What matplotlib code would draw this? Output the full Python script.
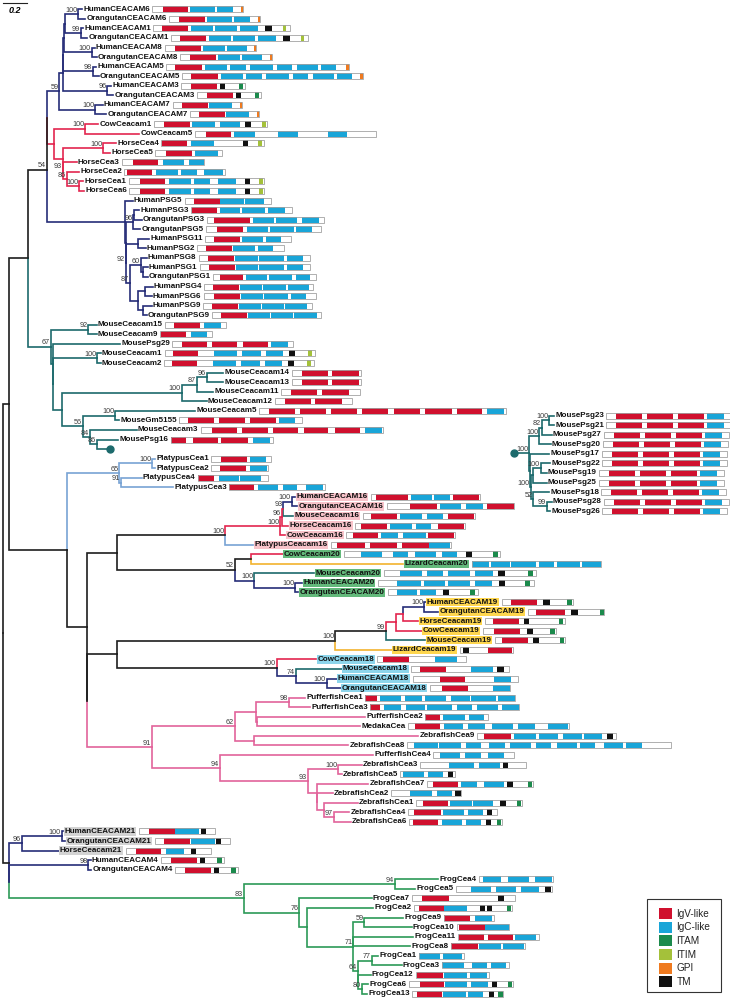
import matplotlib
matplotlib.use('Agg')
import matplotlib.pyplot as plt
from matplotlib.patches import Rectangle

plt.rcParams['font.family'] = ['Liberation Sans', 'DejaVu Sans']

# ---- tree: internal node = [depth, support, colour, *children], leaf = (name, tip depth[, colour])
# depths are in scale-bar units where 0.2 substitutions = 24
TREE = [2.7, None, 'k',
  [9.0, None, 'k',
    [28.3, None, 'k',
      [46.7, 54, 'k',
        [46.7, None, 'k',
          [59.3, 59, 'n',
            [63.3, None, 'n',
              [63.3, None, 'n',
                [64.3, None, 'n',
                  [65.3, None, 'n',
                    [78.3, 100, 'n', ('HumanCEACAM6', 82.0), ('OrangutanCEACAM6', 85.3)],
                    [80.7, 99, 'n', ('HumanCEACAM1', 83.3), ('OrangutanCEACAM1', 87.3)]],
                  [91.7, 100, 'n', ('HumanCEACAM8', 94.7), ('OrangutanCEACAM8', 96.7)]],
                [92.7, 98, 'n', ('HumanCEACAM5', 96.0), ('OrangutanCEACAM5', 98.7)]],
              [107.3, 96, 'n', ('HumanCEACAM3', 111.3), ('OrangutanCEACAM3', 113.3)]],
            [95.0, 100, 'n', ('HumanCEACAM7', 102.7), ('OrangutanCEACAM7', 106.0)]],
          [54.0, None, 'r',
            [85.0, 100, 'r', ('CowCeacam1', 98.0), ('CowCeacam5', 139.0)],
            [63.0, None, 'r',
              [103.0, 100, 'r', ('HorseCea4', 116.0), ('HorseCea5', 110.0)],
              [63.0, 93, 'r', ('HorseCea3', 76.7),
                [67.0, 86, 'r', ('HorseCea2', 79.0),
                  [79.0, 100, 'r', ('HorseCea1', 83.3), ('HorseCea6', 84.0)]]]]]],
        [125.0, None, 'n',
          ('HumanPSG5', 132.7),
          [126.0, None, 'n',
            [133.3, 96, 'n',
              [133.5, None, 'n', ('HumanPSG3', 139.3), ('OrangutanPSG3', 141.7)],
              ('OrangutanPSG5', 140.0)],
            [126.0, 92, 'n',
              [138.3, None, 'n', ('HumanPSG11', 149.0), ('HumanPSG2', 145.7)],
              [130.0, 87, 'n',
                [141.0, 60, 'n', ('HumanPSG8', 146.7),
                  [143.0, None, 'n', ('HumanPSG1', 147.7), ('OrangutanPSG1', 147.7)]],
                [138.3, None, 'n',
                  [145.0, None, 'n', ('HumanPSG4', 152.7), ('HumanPSG6', 151.7)],
                  [143.0, None, 'n', ('HumanPSG9', 151.7), ('OrangutanPSG9', 146.7)]]]]]]],
      [50.7, 67, 't',
        [88.3, 92, 't', ('MouseCeacam15', 96.7), ('MouseCeacam9', 96.7)],
        [53.3, None, 't',
          ('MousePsg29', 120.0),
          [53.3, None, 't',
            [97.0, 100, 't', ('MouseCeacam1', 100.7), ('MouseCeacam2', 100.7)],
            [62.0, None, 't',
              [181.7, 100, 't',
                [196.7, 87, 't',
                  [206.7, 96, 't', ('MouseCeacam14', 223.3), ('MouseCeacam13', 223.3)],
                  ('MouseCeacam11', 213.3)],
                ('MouseCeacam12', 206.7)],
              [82.7, 56, 't',
                [115.0, 100, 't', ('MouseCeacam5', 195.0), ('MouseGm5155', 119.0)],
                [90.0, 84, 't', ('MouseCeacam3', 136.7),
                  [97.0, 86, 't', ('MousePsg16', 118.3), ('*', 110.0)]]]]]]]],
    [67.0, None, 'k',
      [119.3, 65, 'b',
        [152.0, 100, 'b', ('PlatypusCea1', 155.0), ('PlatypusCea2', 155.0)],
        [120.7, 91, 'b', ('PlatypusCea4', 141.7), ('PlatypusCea3', 173.3)]],
      [87.0, None, 'k',
        [117.3, None, 'k',
          [225.0, 100, 'k',
            [280.0, 100, 'r',
              [281.7, 96, 'r',
                [283.3, 93, 'r',
                  [291.7, 100, 'n', ('HumanCEACAM16', 295.0), ('OrangutanCEACAM16', 297.3)],
                  ('MouseCeacam16', 293.3, 't')],
                ('HorseCeacam16', 288.3)],
              ('CowCeacam16', 285.0)],
            ('PlatypusCeacam16', 253.3, 'b')],
          [235.0, 52, 'k',
            [251.0, None, 'k', ('CowCeacam20', 282.7, 'r'), ('LizardCeacam20', 403.3, 'o')],
            [254.0, 100, 'n', ('MouseCeacam20', 314.0, 't'),
              [295.0, 100, 'n', ('HumanCEACAM20', 302.0), ('OrangutanCEACAM20', 298.0)]]]],
        [87.0, None, 'k',
          [117.3, None, 'k',
            [335.0, 100, 'k',
              [386.0, 99, 'k',
                [396.0, None, 'r',
                  [402.7, None, 'r',
                    [424.3, 100, 'n', ('HumanCEACAM19', 425.7), ('OrangutanCEACAM19', 438.3)],
                    ('HorseCeacam19', 418.3)],
                  ('CowCeacam19', 421.7)],
                ('MouseCeacam19', 425.0, 't')],
              ('LizardCeacam19', 391.7, 'o')],
            [276.7, 100, 'k',
              ('CowCeacam18', 316.0, 'r'),
              [296.0, 74, 'n', ('MouseCeacam18', 341.7, 't'),
                [326.7, 100, 'n', ('HumanCEACAM18', 336.7), ('OrangutanCEACAM18', 340.7)]]]],
          [151.7, 91, 'p',
            [235.0, 62, 'p',
              [256.0, None, 'p',
                [289.0, 98, 'p', ('PufferfishCea1', 305.0), ('PufferfishCea3', 310.0)],
                [257.3, None, 'p', ('PufferfishCea2', 365.0), ('MedakaCea', 360.0)]],
              [254.0, None, 'p', ('ZebrafishCea9', 418.3), ('ZebrafishCea8', 348.3)]],
            [220.0, 94, 'p',
              ('PufferfishCea4', 373.3),
              [308.0, 93, 'p',
                [338.3, 100, 'p', ('ZebrafishCea3', 361.7), ('ZebrafishCea5', 341.7)],
                [317.3, None, 'p', ('ZebrafishCea7', 368.3),
                  [317.3, None, 'p', ('ZebrafishCea2', 332.7),
                    [324.0, None, 'p', ('ZebrafishCea1', 357.7),
                      [334.0, 97, 'p', ('ZebrafishCea4', 349.3), ('ZebrafishCea6', 350.7)]]]]]]]]]]],
  [9.0, None, 'k',
    [22.0, 96, 'n',
      [61.7, 100, 'n', ('HumanCEACAM21', 63.3), ('OrangutanCEACAM21', 65.3)],
      ('HorseCeacam21', 58.7)],
    [9.0, None, 'n',
      [88.3, 98, 'n', ('HumanCEACAM4', 90.7), ('OrangutanCEACAM4', 91.3)],
      [244.0, 83, 'g',
        [395.0, 94, 'g', ('FrogCea4', 438.3), ('FrogCea5', 415.0)],
        [299.3, 76, 'g', ('FrogCea7', 371.7),
          [307.3, None, 'g', ('FrogCea2', 373.3),
            [353.3, 71, 'g',
              [364.3, 59, 'g', ('FrogCea9', 403.3), ('FrogCea10', 411.7)],
              ('FrogCea11', 413.3), ('FrogCea8', 410.0),
              [357.7, 64, 'g',
                [371.7, 77, 'g', ('FrogCea1', 378.3), ('FrogCea3', 401.7)],
                [357.7, None, 'g', ('FrogCea12', 370.7),
                  [361.7, 80, 'g', ('FrogCea6', 368.3), ('FrogCea13', 367.3)]]]]]]]]]]

# collapsed mouse PSG clade, drawn to the right
PSG_TREE = [514.3, None, 't',
  [529.3, 100, 't',
    [539.3, 100, 't',
      [541.7, 82, 't',
        [549.0, 100, 't', ('MousePsg23', 554.0), ('MousePsg21', 554.0)],
        ('MousePsg27', 551.7)],
      ('MousePsg20', 550.7)],
    [530.0, None, 't', ('MousePsg17', 549.3),
      [530.5, 100, 't',
        [532.7, None, 't',
          [540.7, 100, 't', ('MousePsg22', 550.0), ('MousePsg19', 546.7)],
          ('MousePsg25', 546.7)],
        [533.3, 52, 't', ('MousePsg18', 549.0),
          [546.5, 99, 't', ('MousePsg28', 551.7), ('MousePsg26', 550.0)]]]]]]

# ---- domain architecture: w = no domain, V = IgV-like, C = IgC-like, A = ITAM, I = ITIM, G = GPI, T = TM
psg_mouse = 'w10 V26 w5 V26 w5 V26 w3 C17 w7'
DOMAINS = {
    'HumanCEACAM6': 'w11 V25 w2 C25 w2 C16 w8 G2',
    'OrangutanCEACAM6': 'w10 V26 w2 C25 w2 C16 w8 G2',
    'HumanCEACAM1': 'w9 V26 w3 C22 w2 C22 w3 C18 w7 T7 w11 I3 w4',
    'OrangutanCEACAM1': 'w9 V26 w3 C22 w2 C22 w3 C18 w7 T7 w11 I3 w4',
    'HumanCEACAM8': 'w10 V26 w2 C22 w2 C20 w7 G2',
    'OrangutanCEACAM8': 'w10 V26 w2 C22 w2 C20 w8 G2',
    'HumanCEACAM5': 'w9 V27 w3 C22 w3 C16 w4 C23 w4 C15 w5 C21 w3 C15 w10 G3',
    'OrangutanCEACAM5': 'w9 V27 w3 C22 w3 C16 w4 C23 w4 C15 w5 C21 w3 C15 w8 G3',
    'HumanCEACAM3': 'w10 V26 w3 T5 w14 A4 w2',
    'OrangutanCEACAM3': 'w10 V26 w3 T5 w14 A4 w2',
    'HumanCEACAM7': 'w9 V26 w1 C23 w8 G2',
    'OrangutanCEACAM7': 'w9 V26 w1 C23 w8 G2',
    'CowCeacam1': 'w10 V26 w2 C23 w5 C20 w5 T6 w11 I4 w1',
    'CowCeacam5': 'w11 V25 w3 C21 w23 C20 w30 C19 w29',
    'HorseCea4': 'w1 V25 w4 C23 w29 T5 w10 I4 w2',
    'HorseCea5': 'w11 V26 w3 C23 w4',
    'HorseCea3': 'w11 V25 w5 C21 w5 C15',
    'HorseCea2': 'w3 V25 w4 C22 w3 C16 w7 C19 w2',
    'HorseCea1': 'w11 V25 w4 C22 w3 C16 w8 C18 w9 T5 w9 I4 w1',
    'HorseCea6': 'w11 V25 w4 C22 w3 C16 w8 C18 w9 T5 w9 I4 w1',
    'HumanPSG5': 'w9 V26 C24 w1 C19 w7',
    'HumanPSG3': 'w1 V25 w3 C20 w2 C23 w3 C17 w7',
    'OrangutanPSG3': 'w7 V36 w3 C21 w2 C21 w5 C17 w5',
    'OrangutanPSG5': 'w11 V26 w4 C21 w2 C24 w2 C16 w9',
    'HumanPSG11': 'w9 V26 w2 C21 w3 C15 w10',
    'HumanPSG2': 'w9 V26 w1 C22 w3 C15 w11',
    'HumanPSG8': 'w9 V26 w1 C23 w1 C25 w3 C16 w7',
    'HumanPSG1': 'w9 V26 w1 C22 w1 C25 w3 C16 w7',
    'OrangutanPSG1': 'w7 V23 w3 C21 w2 C23 w4 C14 w6',
    'HumanPSG4': 'w9 V26 w1 C22 w1 C23 w2 C21 w4',
    'HumanPSG6': 'w10 V26 w1 C22 w1 C24 w3 C15 w10',
    'HumanPSG9': 'w9 V26 w1 C22 w1 C22 w1 C22 w5',
    'OrangutanPSG9': 'w9 V26 w1 C22 w1 C22 w1 C23 w4',
    'MouseCeacam15': 'w9 V26 w4 C17 w5',
    'MouseCeacam9': 'w1 V25 w5 C16 w5',
    'MousePsg29': 'w10 V25 w5 V25 w6 V25 w3 C17 w5',
    'MouseCeacam1': 'w8 V25 w16 C23 w5 C19 w5 C17 w6 T6 w13 I4 w3',
    'MouseCeacam2': 'w8 V25 w16 C23 w5 C19 w5 C17 w6 T6 w13 I4 w3',
    'MouseCeacam14': 'w10 V26 w4 V27 w2',
    'MouseCeacam13': 'w10 V26 w4 V27 w2',
    'MouseCeacam11': 'w10 V26 w5 V27 w11',
    'MouseCeacam12': 'w10 V26 w4 V27 w10',
    'MouseCeacam5': 'w10 V26 w5 V26 w5 V26 w5 V26 w6 V26 w5 V27 w5 V25 w5 C17 w2',
    'MouseGm5155': 'w9 V26 w5 V26 w5 V26 w3 C16 w7',
    'MouseCeacam3': 'w11 V25 w5 V26 w5 V25 w6 V24 w7 V25 w5 C17 w1',
    'MousePsg16': 'V15 w7 V25 w3 V27 w5 C17 w3',
    'PlatypusCea1': 'w10 V26 w3 C16 w5',
    'PlatypusCea2': 'w9 V26 w4 C17 w1',
    'PlatypusCea4': 'V16 w5 C20 w1 C21 w7',
    'PlatypusCea3': 'V25 w4 C20 w5 C14 w9 C17 w2',
    'HumanCEACAM16': 'w5 V32 w3 C21 w2 C16 w3 V26 w1',
    'OrangutanCEACAM16': 'w23 V27 w3 C21 w5 C17 w4 V27',
    'MouseCeacam16': 'w8 V26 w3 C22 w5 C16 w5 V26 w1',
    'HorseCeacam16': 'w6 V26 w3 C22 w4 C15 w7 V26 w1',
    'CowCeacam16': 'w7 V25 w3 C17 w5 C23 w2 V26 w1',
    'PlatypusCeacam16': 'w6 V28 w5 V27 w5 V27 C21 w1',
    'CowCeacam20': 'w17 C21 w11 C15 w7 C21 w6 C15 w9 T6 w21 A5 w2',
    'LizardCeacam20': 'C17 w2 C19 w1 C25 w3 C15 w3 C23 w2 C19',
    'MouseCeacam20': 'w16 C22 w5 C16 w5 C22 w5 C18 w5 T7 w23 A5 w3',
    'HumanCEACAM20': 'w19 C24 w3 C21 w3 C22 w5 C17 w7 T6 w20 A5 w4',
    'OrangutanCEACAM20': 'w9 C20 w3 C16 w7 T6 w21 A5 w3',
    'HumanCEACAM19': 'w9 V26 w6 T7 w17 A5 w1',
    'OrangutanCEACAM19': 'w8 V29 w6 T7 w22 A4',
    'HorseCeacam19': 'w8 V26 w5 T5 w30 A4 w2',
    'CowCeacam19': 'w11 V26 w7 T6 w17 A5 w1',
    'MouseCeacam19': 'w7 V26 w5 T6 w21 A4 w1',
    'LizardCeacam19': 'w3 T6 w19 V24 w1',
    'CowCeacam18': 'w6 V26 w26 C22 w9',
    'MouseCeacam18': 'w9 V26 w25 C22 w4 T7 w5',
    'HumanCEACAM18': 'w27 V25 w29 C17 w7',
    'OrangutanCEACAM18': 'w12 V26 w25 C17',
    'PufferfishCea1': 'V12 w3 C21 w4 C17 w3 C21 w5 C19 w1 C25 w2 C17',
    'PufferfishCea3': 'V10 w4 C17 w5 C19 w2 C25 w5 C15 w5 C21 w4 C17',
    'PufferfishCea2': 'V15 w3 C22 w4 C15 w4',
    'MedakaCea': 'w7 V25 w4 C19 w5 C17 w7 C21 w5 C17 w13 C20 w1',
    'ZebrafishCea9': 'w7 V27 w3 C22 w3 C19 w5 C19 w2 C18 w5 T6 w3',
    'ZebrafishCea8': 'w7 C24 w1 C22 w5 C15 w8 C16 w5 C21 w5 C15 w6 C20 w3 C15 w9 C19 w3 C16 w29',
    'PufferfishCea4': 'w7 C20 w5 C16 w7 C16 w10',
    'ZebrafishCea3': 'w29 C25 w5 C21 w3 T5 w18',
    'ZebrafishCea5': 'w3 C21 w4 C15 w5 T5 w2',
    'ZebrafishCea7': 'w6 V25 w3 C16 w7 C20 w3 T6 w15 A4 w1',
    'ZebrafishCea2': 'w19 C22 w5 C15 w3 T6',
    'ZebrafishCea1': 'w7 V25 w2 C22 w1 C20 w7 T6 w11 A4 w1',
    'ZebrafishCea4': 'w6 V27 w2 C21 w4 C15 w4 T5 w5',
    'ZebrafishCea6': 'w4 V25 w4 C20 w4 C15 w5 T5 w6 A4 w1',
    'HumanCEACAM21': 'w10 V26 C24 w2 T5 w9',
    'OrangutanCEACAM21': 'w9 V26 w1 C24 w1 T5 w9',
    'HorseCeacam21': 'w10 V25 w5 C18 w7 T5 w15',
    'HumanCEACAM4': 'w10 V26 w3 T5 w12 A5 w2',
    'OrangutanCEACAM4': 'w10 V26 w3 T5 w12 A5 w2',
    'FrogCea4': 'w4 C18 w7 C21 w6 C17 w1',
    'FrogCea5': 'w15 C20 w5 C20 w5 C18 w6 T6 w1',
    'FrogCea7': 'w10 V27 w49 T6 w11',
    'FrogCea2': 'w5 V25 C23 w13 T5 w2 T5 w15 A4 w1',
    'FrogCea9': 'V26 w5 C17 w2',
    'FrogCea10': 'w2 V26 C24',
    'FrogCea11': 'w1 V25 w4 V25 w2 C21 w3',
    'FrogCea8': 'V27 w1 C22 w2 C21 w1',
    'FrogCea1': 'C21 w3 C19 w2',
    'FrogCea3': 'C22 w8 C15 w4 C15 w3',
    'FrogCea12': 'w1 V26 w1 C23 w3 C17 w2',
    'FrogCea6': 'w11 V24 w1 C22 w4 C17 w4 T5 w11 A4 w1',
    'FrogCea13': 'w5 V25 w1 C23 w2 C15 w6 T5 w4 A5',
}
for n in ['23', '21', '27', '20', '17', '22', '19', '25', '18', '28', '26']:
    DOMAINS['MousePsg' + n] = psg_mouse

HIGHLIGHT = {
    'pink': ['HumanCEACAM16', 'OrangutanCEACAM16', 'MouseCeacam16', 'HorseCeacam16',
             'CowCeacam16', 'PlatypusCeacam16'],
    'green': ['CowCeacam20', 'LizardCeacam20', 'MouseCeacam20', 'HumanCEACAM20',
              'OrangutanCEACAM20'],
    'yellow': ['HumanCEACAM19', 'OrangutanCEACAM19', 'HorseCeacam19', 'CowCeacam19',
               'MouseCeacam19', 'LizardCeacam19'],
    'cyan': ['CowCeacam18', 'MouseCeacam18', 'HumanCEACAM18', 'OrangutanCEACAM18'],
    'gray': ['HumanCEACAM21', 'OrangutanCEACAM21', 'HorseCeacam21'],
}
legend_keys = ['V', 'C', 'A', 'I', 'G', 'T']
legend_names = ['IgV-like', 'IgC-like', 'ITAM', 'ITIM', 'GPI', 'TM']

# ---- styles
branch_col = {'k': '#1e1e1e', 'n': '#262d78', 'r': '#e3264f', 't': '#1c6a6c',
              'b': '#78a3d4', 'p': '#e2649b', 'g': '#2c9a58', 'o': '#f2b32e'}
dom_col = {'V': '#d0102e', 'C': '#19a5d8', 'A': '#1b8a4c', 'I': '#a4c13a',
           'G': '#ef7a1f', 'T': '#111111'}
hl_col = {'pink': '#f8c3ca', 'green': '#63b97b', 'yellow': '#fed64e',
          'cyan': '#8dd5eb', 'gray': '#d3d3d3'}
hl_of = {name: g for g, names in HIGHLIGHT.items() for name in names}

Y0, DY = 9.3, 9.56   # first row and row spacing (pixels)

edges, leaves, supports = [], [], []


def place(node, inherited, state):
    if isinstance(node, tuple):
        col = node[2] if len(node) > 2 else inherited
        y = Y0 + state['row'] * DY
        state['row'] += 1
        leaves.append((node[0], node[1], y, col))
        return node[1], y, col
    x, sup, col = node[0], node[1], node[2] or inherited
    kids = [place(ch, col, state) for ch in node[3:]]
    y = (kids[0][1] + kids[-1][1]) / 2
    for kx, ky, kc in kids:
        edges.append(([x, x, kx], [y, ky, ky], kc))
    if sup is not None:
        supports.append((x, y, sup))
    return x, y, col


place(TREE, 'k', {'row': 0})
rx, ry, _ = place(PSG_TREE, 't', {'row': 42.5})

fig = plt.figure(figsize=(7.3, 10), dpi=100)
ax = fig.add_axes([0, 0, 1, 1])
ax.set_xlim(0, 730)
ax.set_ylim(1000, 0)
ax.axis('off')

for xs, ys, c in edges:
    ax.plot(xs, ys, color=branch_col[c], lw=1.2, solid_joinstyle='miter',
            solid_capstyle='projecting', zorder=2)

for x, y, s in supports:
    ax.text(x - 0.8, y - 0.4, str(s), fontsize=5.2, color='#3a3a3a',
            ha='right', va='bottom', zorder=3)

# collapsed-clade markers
ax.plot(rx, ry, 'o', color=branch_col['t'], ms=5, zorder=3)

renderer = fig.canvas.get_renderer()
inv = ax.transData.inverted()

for name, tip, y, col in leaves:
    if name == '*':
        ax.plot(tip, y, 'o', color=branch_col['t'], ms=5, zorder=3)
        continue
    hl = hl_of.get(name)
    bbox = dict(boxstyle='square,pad=0.08', fc=hl_col[hl], ec='none') if hl else None
    t = ax.text(tip + 1.2, y, name, fontsize=5.8, fontweight='bold', ha='left',
                va='center', color='#111111', bbox=bbox, zorder=4)
    bb = t.get_window_extent(renderer=renderer)
    x_end = inv.transform((bb.x1, bb.y0))[0]
    x0 = x_end + (3.5 if hl else 2.2)
    total = 0
    for tok in DOMAINS[name].split():
        kind, length = tok[0], float(tok[1:])
        if kind != 'w':
            ax.add_patch(Rectangle((x0 + total, y - 3), length, 6, fc=dom_col[kind],
                                   ec='none', zorder=4))
        total += length
    ax.add_patch(Rectangle((x0, y - 3), total, 6, fc='none', ec='#a2a2a2',
                           lw=0.6, zorder=5))

# scale bar
ax.plot([2.7, 26.7], [3.0, 3.0], color='#222222', lw=0.8)
ax.text(14.5, 10.5, '0.2', fontsize=6.5, fontweight='bold', style='italic',
        ha='center', va='center')

# legend
ax.add_patch(Rectangle((647, 899), 74, 93, fc='white', ec='#333333', lw=0.8, zorder=5))
for i, (k, lab) in enumerate(zip(legend_keys, legend_names)):
    yy = 913.7 + i * 13.6
    ax.add_patch(Rectangle((658.5, yy - 5.5), 13, 11, fc=dom_col[k], ec='none', zorder=6))
    ax.text(676.5, yy, lab, fontsize=7.2, ha='left', va='center', color='#222222', zorder=6)

fig.savefig('out.png', dpi=100)
